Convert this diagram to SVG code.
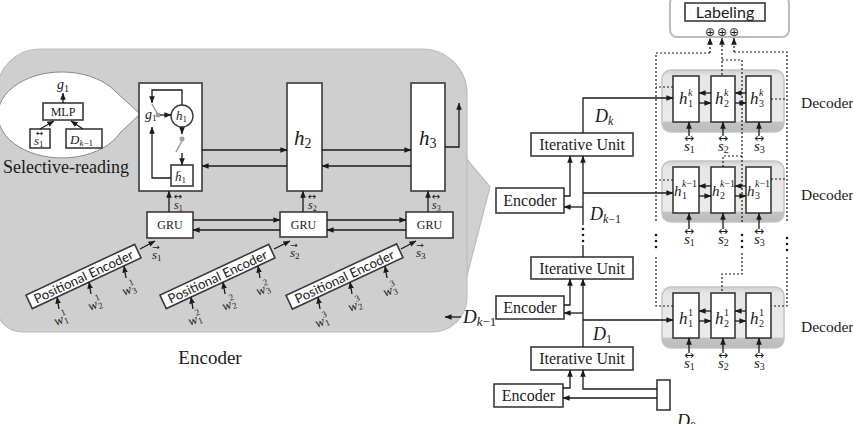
<svg xmlns="http://www.w3.org/2000/svg" width="853" height="424" viewBox="0 0 853 424">
<defs>
<marker id="ar" viewBox="0 0 10 10" refX="9.5" refY="5" markerWidth="7" markerHeight="7" markerUnits="userSpaceOnUse" orient="auto"><path d="M0,1 L10,5 L0,9 z" fill="#1a1a1a"/></marker>
<linearGradient id="dg" x1="0" y1="0" x2="0" y2="1">
<stop offset="0" stop-color="#cfcfcf"/><stop offset="0.1" stop-color="#e6e6e6"/><stop offset="0.82" stop-color="#ebebeb"/><stop offset="0.84" stop-color="#c3c3c3"/><stop offset="1" stop-color="#bababa"/>
</linearGradient>
</defs>
<style>
.ln{fill:none;stroke:#1a1a1a;stroke-width:1.3}
.ar{marker-end:url(#ar)}
.dl{fill:none;stroke:#1a1a1a;stroke-width:1.2;stroke-dasharray:2 2}
.bx{fill:#fff;stroke:#3a3a3a;stroke-width:1.6}
.sr{font-family:"Liberation Serif",serif;fill:#1a1a1a}
.mi{font-family:"Liberation Serif",serif;font-style:italic;fill:#1a1a1a}
.up{font-style:normal}
.sa{font-family:Lato,"Liberation Sans",sans-serif;fill:#1a1a1a}
.sy{font-family:"DejaVu Sans",sans-serif;fill:#1a1a1a}
.dec{fill:url(#dg);stroke:#c4c4c4;stroke-width:1.5}
.dot{fill:#1a1a1a}
</style>

<!-- ===== Left encoder panel ===== -->
<g id="encoder-panel">
<path d="M 455,145 L 490,187 L 462,295 Z" fill="#d0d0d0" stroke="#bdbdbd" stroke-width="1.2"/>
<path d="M -3,92 A 43 43 0 0 1 40,49 H 422 A 45 45 0 0 1 467,94 V 297 A 35 35 0 0 1 432,332 H 22 A 25 25 0 0 1 -3,307 Z" fill="#cfcfcf" stroke="#bdbdbd" stroke-width="1.2"/>
</g>

<g id="selective-reading">
<path d="M 116,92 L 140,114 L 120,133 A 64 43 0 1 1 116,92 Z" fill="#fff" stroke="#8a8a8a" stroke-width="1"/>
<text class="mi" x="57" y="89" font-size="14">g<tspan class="up" font-size="10" dy="3">1</tspan></text>
<g id="mlp"><rect class="bx" x="43" y="103" width="40" height="17" stroke-width="1.4"/><text class="sr" x="63" y="116" font-size="12" text-anchor="middle">MLP</text></g>
<g id="s1-box"><rect class="bx" x="30" y="129" width="20" height="19" stroke-width="1.4"/><text class="sy" x="39.5" y="136" font-size="9" text-anchor="middle">↔</text><text class="mi" x="34" y="145" font-size="13">s<tspan class="up" font-size="9" dy="2">1</tspan></text></g>
<g id="dk1-box"><rect class="bx" x="66" y="129" width="36" height="19" stroke-width="1.4"/><text class="mi" x="70" y="144" font-size="13">D<tspan font-size="9" dy="2">k</tspan><tspan class="up" font-size="9">−1</tspan></text></g>
<text class="sr" x="3" y="173" font-size="18">Selective-reading</text>
</g>

<g id="h1-cell">
<rect class="bx" x="139" y="83" width="63" height="108"/>
<circle cx="182" cy="116" r="11" fill="#fff" stroke="#3a3a3a" stroke-width="1.4"/>
<text class="mi" x="176" y="120" font-size="13">h<tspan class="up" font-size="9" dy="2">1</tspan></text>
<text class="mi" x="145" y="119" font-size="14">g<tspan class="up" font-size="9" dy="2">1</tspan></text>
<circle cx="158" cy="115" r="2.5" fill="#a0a0a0"/>
<circle cx="182" cy="139" r="2.5" fill="#a0a0a0"/>
<rect class="bx" x="171" y="165" width="22" height="21" stroke-width="1.4"/>
<text class="mi" x="175" y="181" font-size="13">h̄<tspan class="up" font-size="9" dy="2">1</tspan></text>
</g>

<g id="h2-cell"><rect class="bx" x="287" y="83" width="35" height="108"/><text class="mi" x="294" y="145" font-size="21">h<tspan class="up" font-size="14" dy="3">2</tspan></text></g>
<g id="h3-cell"><rect class="bx" x="411" y="83" width="34" height="108"/><text class="mi" x="419" y="145" font-size="21">h<tspan class="up" font-size="14" dy="3">3</tspan></text></g>

<g id="gru1"><rect class="bx" x="147" y="212" width="46" height="26"/><text class="sr" x="170" y="229" font-size="12" text-anchor="middle">GRU</text></g>
<g id="gru2"><rect class="bx" x="280" y="212" width="47" height="25"/><text class="sr" x="303.5" y="229" font-size="12" text-anchor="middle">GRU</text></g>
<g id="gru3"><rect class="bx" x="406" y="212" width="47" height="26"/><text class="sr" x="429.5" y="229" font-size="12" text-anchor="middle">GRU</text></g>

<g id="pe1" transform="translate(83.5,276.5) rotate(-25)"><rect class="bx" x="-60" y="-7.5" width="120" height="15" stroke-width="1.4"/><text class="sa" x="0" y="4.8" font-size="13" text-anchor="middle" textLength="108" lengthAdjust="spacingAndGlyphs">Positional Encoder</text></g>
<g id="pe2" transform="translate(217.5,276.5) rotate(-25)"><rect class="bx" x="-60" y="-7.5" width="120" height="15" stroke-width="1.4"/><text class="sa" x="0" y="4.8" font-size="13" text-anchor="middle" textLength="108" lengthAdjust="spacingAndGlyphs">Positional Encoder</text></g>
<g id="pe3" transform="translate(344.5,276.5) rotate(-25)"><rect class="bx" x="-61" y="-7.5" width="122" height="15" stroke-width="1.4"/><text class="sa" x="0" y="4.8" font-size="13" text-anchor="middle" textLength="108" lengthAdjust="spacingAndGlyphs">Positional Encoder</text></g>

<g id="word-labels">
<g transform="translate(56,326) rotate(-22)"><text class="mi" font-size="14">w<tspan class="up" font-size="9" x="9.5" dy="2">1</tspan><tspan class="up" font-size="9" x="9.5" dy="-9">1</tspan></text></g>
<g transform="translate(90,311) rotate(-22)"><text class="mi" font-size="14">w<tspan class="up" font-size="9" x="9.5" dy="2">2</tspan><tspan class="up" font-size="9" x="9.5" dy="-9">1</tspan></text></g>
<g transform="translate(124,296) rotate(-22)"><text class="mi" font-size="14">w<tspan class="up" font-size="9" x="9.5" dy="2">3</tspan><tspan class="up" font-size="9" x="9.5" dy="-9">1</tspan></text></g>
<g transform="translate(190,326) rotate(-22)"><text class="mi" font-size="14">w<tspan class="up" font-size="9" x="9.5" dy="2">1</tspan><tspan class="up" font-size="9" x="9.5" dy="-9">2</tspan></text></g>
<g transform="translate(224,311) rotate(-22)"><text class="mi" font-size="14">w<tspan class="up" font-size="9" x="9.5" dy="2">2</tspan><tspan class="up" font-size="9" x="9.5" dy="-9">2</tspan></text></g>
<g transform="translate(258,296) rotate(-22)"><text class="mi" font-size="14">w<tspan class="up" font-size="9" x="9.5" dy="2">3</tspan><tspan class="up" font-size="9" x="9.5" dy="-9">2</tspan></text></g>
<g transform="translate(317,328) rotate(-22)"><text class="mi" font-size="14">w<tspan class="up" font-size="9" x="9.5" dy="2">1</tspan><tspan class="up" font-size="9" x="9.5" dy="-9">3</tspan></text></g>
<g transform="translate(350,312) rotate(-22)"><text class="mi" font-size="14">w<tspan class="up" font-size="9" x="9.5" dy="2">2</tspan><tspan class="up" font-size="9" x="9.5" dy="-9">3</tspan></text></g>
<g transform="translate(385,297) rotate(-22)"><text class="mi" font-size="14">w<tspan class="up" font-size="9" x="9.5" dy="2">3</tspan><tspan class="up" font-size="9" x="9.5" dy="-9">3</tspan></text></g>
</g>

<g id="state-labels">
<text class="sy" x="156" y="249.5" font-size="9" text-anchor="middle">→</text><text class="mi" x="152" y="259" font-size="13">s<tspan class="up" font-size="9" dy="2">1</tspan></text>
<text class="sy" x="294" y="247.5" font-size="9" text-anchor="middle">→</text><text class="mi" x="290" y="257" font-size="13">s<tspan class="up" font-size="9" dy="2">2</tspan></text>
<text class="sy" x="420" y="247.5" font-size="9" text-anchor="middle">→</text><text class="mi" x="416" y="257" font-size="13">s<tspan class="up" font-size="9" dy="2">3</tspan></text>
<text class="sy" x="178" y="200" font-size="10" text-anchor="middle">↔</text><text class="mi" x="174" y="209" font-size="12">s<tspan class="up" font-size="8" dy="2">1</tspan></text>
<text class="sy" x="312" y="200" font-size="10" text-anchor="middle">↔</text><text class="mi" x="308" y="209" font-size="12">s<tspan class="up" font-size="8" dy="2">2</tspan></text>
<text class="sy" x="436" y="200" font-size="10" text-anchor="middle">↔</text><text class="mi" x="432" y="209" font-size="12">s<tspan class="up" font-size="8" dy="2">3</tspan></text>
</g>

<text id="dk1-left" class="mi" x="463" y="323" font-size="19">D<tspan font-size="13" dy="3">k</tspan><tspan class="up" font-size="13">−1</tspan></text>
<text id="encoder-caption" class="sr" x="210" y="364" font-size="19" text-anchor="middle">Encoder</text>

<!-- ===== Right column ===== -->
<g id="labeling">
<rect x="670" y="-4" width="119" height="41" rx="7" fill="#fff" stroke="#bdbdbd" stroke-width="2"/>
<rect class="bx" x="685" y="3" width="80" height="18" stroke-width="1.4"/>
<text class="sa" x="725" y="17.5" font-size="16" text-anchor="middle">Labeling</text>
<text class="sy" x="710 722 734" y="35.5" font-size="12" text-anchor="middle">⊕⊕⊕</text>
</g>

<g id="iu-k"><rect class="bx" x="531" y="133" width="102" height="23" stroke-width="1.4"/><text class="sr" x="582" y="150" font-size="16" text-anchor="middle">Iterative Unit</text></g>
<g id="enc-k"><rect class="bx" x="496" y="188" width="68" height="25" stroke-width="1.4"/><text class="sr" x="530" y="206" font-size="16" text-anchor="middle">Encoder</text></g>
<g id="iu-2"><rect class="bx" x="531" y="257" width="102" height="22" stroke-width="1.4"/><text class="sr" x="582" y="274" font-size="16" text-anchor="middle">Iterative Unit</text></g>
<g id="enc-2"><rect class="bx" x="496" y="296" width="68" height="23" stroke-width="1.4"/><text class="sr" x="530" y="313" font-size="16" text-anchor="middle">Encoder</text></g>
<g id="iu-1"><rect class="bx" x="531" y="347" width="102" height="23" stroke-width="1.4"/><text class="sr" x="582" y="364" font-size="16" text-anchor="middle">Iterative Unit</text></g>
<g id="enc-1"><rect class="bx" x="494" y="384" width="69" height="23" stroke-width="1.4"/><text class="sr" x="528.5" y="401" font-size="16" text-anchor="middle">Encoder</text></g>
<g id="d0"><rect class="bx" x="657" y="380" width="13" height="30" stroke-width="1.4"/><text class="mi" x="677" y="427" font-size="18">D<tspan class="up" font-size="12" dy="3">0</tspan></text></g>

<text class="mi" x="595" y="122" font-size="18">D<tspan font-size="12" dy="3">k</tspan></text>
<text class="mi" x="590" y="220" font-size="18">D<tspan font-size="12" dy="3">k</tspan><tspan class="up" font-size="12">−1</tspan></text>
<text class="mi" x="593" y="340" font-size="18">D<tspan class="up" font-size="12" dy="3">1</tspan></text>

<g id="decoder-k">
<rect class="dec" x="662" y="70" width="122" height="62" rx="9"/>
<rect class="bx" x="673" y="76" width="26" height="46"/>
<rect class="bx" x="711" y="76" width="24" height="46"/>
<rect class="bx" x="746" y="76" width="25" height="46"/>
<text class="mi" x="679" y="104" font-size="17">h<tspan class="up" font-size="10" x="688" dy="3">1</tspan><tspan font-size="10" x="688" dy="-11">k</tspan></text>
<text class="mi" x="715" y="104" font-size="17">h<tspan class="up" font-size="10" x="724" dy="3">2</tspan><tspan font-size="10" x="724" dy="-11">k</tspan></text>
<text class="mi" x="750" y="104" font-size="17">h<tspan class="up" font-size="10" x="759" dy="3">3</tspan><tspan font-size="10" x="759" dy="-11">k</tspan></text>
<text class="sy" x="689" y="141.5" font-size="12" text-anchor="middle">↔</text><text class="mi" x="684" y="151" font-size="15">s<tspan class="up" font-size="10" dy="2">1</tspan></text>
<text class="sy" x="723" y="141.5" font-size="12" text-anchor="middle">↔</text><text class="mi" x="718" y="151" font-size="15">s<tspan class="up" font-size="10" dy="2">2</tspan></text>
<text class="sy" x="759" y="141.5" font-size="12" text-anchor="middle">↔</text><text class="mi" x="754" y="151" font-size="15">s<tspan class="up" font-size="10" dy="2">3</tspan></text>
<text class="sr" x="801" y="108" font-size="15.5">Decoder</text>
</g>

<g id="decoder-k-1">
<rect class="dec" x="662" y="161" width="122" height="61" rx="9"/>
<rect class="bx" x="673" y="167" width="26" height="46"/>
<rect class="bx" x="711" y="167" width="24" height="46"/>
<rect class="bx" x="746" y="167" width="25" height="46"/>
<text class="mi" x="674" y="196" font-size="15">h<tspan class="up" font-size="10" x="682" dy="3">1</tspan><tspan font-size="10" x="682" dy="-12">k</tspan><tspan class="up" font-size="10">−1</tspan></text>
<text class="mi" x="712" y="196" font-size="15">h<tspan class="up" font-size="10" x="720" dy="3">2</tspan><tspan font-size="10" x="720" dy="-12">k</tspan><tspan class="up" font-size="10">−1</tspan></text>
<text class="mi" x="747" y="196" font-size="15">h<tspan class="up" font-size="10" x="755" dy="3">3</tspan><tspan font-size="10" x="755" dy="-12">k</tspan><tspan class="up" font-size="10">−1</tspan></text>
<text class="sy" x="689" y="234.5" font-size="12" text-anchor="middle">↔</text><text class="mi" x="684" y="244" font-size="15">s<tspan class="up" font-size="10" dy="2">1</tspan></text>
<text class="sy" x="723" y="234.5" font-size="12" text-anchor="middle">↔</text><text class="mi" x="718" y="244" font-size="15">s<tspan class="up" font-size="10" dy="2">2</tspan></text>
<text class="sy" x="759" y="234.5" font-size="12" text-anchor="middle">↔</text><text class="mi" x="754" y="244" font-size="15">s<tspan class="up" font-size="10" dy="2">3</tspan></text>
<text class="sr" x="801" y="200" font-size="15.5">Decoder</text>
</g>

<g id="decoder-1">
<rect class="dec" x="662" y="287" width="122" height="61" rx="9"/>
<rect class="bx" x="673" y="293" width="26" height="45"/>
<rect class="bx" x="711" y="293" width="24" height="45"/>
<rect class="bx" x="746" y="293" width="25" height="45"/>
<text class="mi" x="679" y="324" font-size="17">h<tspan class="up" font-size="10" x="688" dy="3">1</tspan><tspan class="up" font-size="10" x="688" dy="-11">1</tspan></text>
<text class="mi" x="715" y="324" font-size="17">h<tspan class="up" font-size="10" x="724" dy="3">2</tspan><tspan class="up" font-size="10" x="724" dy="-11">1</tspan></text>
<text class="mi" x="750" y="324" font-size="17">h<tspan class="up" font-size="10" x="759" dy="3">2</tspan><tspan class="up" font-size="10" x="759" dy="-11">1</tspan></text>
<text class="sy" x="689" y="358.5" font-size="12" text-anchor="middle">↔</text><text class="mi" x="684" y="368" font-size="15">s<tspan class="up" font-size="10" dy="2">1</tspan></text>
<text class="sy" x="723" y="358.5" font-size="12" text-anchor="middle">↔</text><text class="mi" x="718" y="368" font-size="15">s<tspan class="up" font-size="10" dy="2">2</tspan></text>
<text class="sy" x="759" y="358.5" font-size="12" text-anchor="middle">↔</text><text class="mi" x="754" y="368" font-size="15">s<tspan class="up" font-size="10" dy="2">3</tspan></text>
<text class="sr" x="801" y="332" font-size="15.5">Decoder</text>
</g>

<!-- ===== Connectors ===== -->
<g id="connectors">
<path class="ln ar" d="M 63,103 V 93"/>
<path class="ln ar" d="M 40,129 L 54,121"/>
<path class="ln ar" d="M 83,129 L 71,121"/>
<path class="ln ar" d="M 160,115 H 171"/>
<path class="ln ar" d="M 182,105 V 90 H 152 V 103"/>
<path d="M 152,104 L 157,113" stroke="#9a9a9a" stroke-width="1.5" fill="none"/>
<path class="ln ar" d="M 182,127 V 134"/>
<path d="M 182,141 L 176,152" stroke="#9a9a9a" stroke-width="1.5" fill="none"/>
<path class="ln ar" d="M 182,153 V 165"/>
<path class="ln ar" d="M 171,178 H 152 V 127"/>
<path class="ln ar" d="M 202,150 H 287"/>
<path class="ln ar" d="M 287,166 H 202"/>
<path class="ln ar" d="M 322,150 H 411"/>
<path class="ln ar" d="M 411,166 H 322"/>
<path class="ln ar" d="M 445,147 H 459 V 103"/>
<path class="ln ar" d="M 169,212 V 191"/>
<path class="ln ar" d="M 303,212 V 191"/>
<path class="ln ar" d="M 428,212 V 191"/>
<path class="ln ar" d="M 193,220 H 280"/>
<path class="ln ar" d="M 280,230 H 193"/>
<path class="ln ar" d="M 327,220 H 406"/>
<path class="ln ar" d="M 406,230 H 327"/>
<path class="ln ar" d="M 140,249 L 155,241"/>
<path class="ln ar" d="M 274,249 L 290,241"/>
<path class="ln ar" d="M 401,249 L 416,241"/>
<path class="ln ar" d="M 59,309 L 57,297"/>
<path class="ln ar" d="M 91,294 L 89,282"/>
<path class="ln ar" d="M 126,278 L 124,266"/>
<path class="ln ar" d="M 193,309 L 191,297"/>
<path class="ln ar" d="M 225,294 L 223,282"/>
<path class="ln ar" d="M 260,278 L 258,266"/>
<path class="ln ar" d="M 320,309 L 318,297"/>
<path class="ln ar" d="M 352,294 L 350,282"/>
<path class="ln ar" d="M 387,278 L 385,266"/>
<path class="ln ar" d="M 461,317 H 445"/>
<path class="ln ar" d="M 583,133 V 98 H 673"/>
<path class="ln ar" d="M 564,196 H 570 V 156"/>
<path class="ln ar" d="M 583,225 V 156"/>
<path class="ln ar" d="M 583,207 H 564"/>
<path class="ln ar" d="M 583,193 H 673"/>
<path class="ln" d="M 583,245 V 257"/>
<circle class="dot" cx="583" cy="229" r="1.3"/><circle class="dot" cx="583" cy="235" r="1.3"/><circle class="dot" cx="583" cy="241" r="1.3"/>
<path class="ln ar" d="M 564,305 H 570 V 279"/>
<path class="ln ar" d="M 583,347 V 279"/>
<path class="ln ar" d="M 583,313 H 564"/>
<path class="ln ar" d="M 583,320 H 673"/>
<path class="ln ar" d="M 563,388 H 570 V 370"/>
<path class="ln ar" d="M 657,389 H 583 V 370"/>
<path class="ln ar" d="M 657,398 H 563"/>
<path class="ln ar" d="M 711,93 H 699"/><path class="ln ar" d="M 699,103 H 711"/>
<path class="ln ar" d="M 746,93 H 735"/><path class="ln ar" d="M 735,103 H 746"/>
<path class="ln ar" d="M 711,186 H 699"/><path class="ln ar" d="M 699,196 H 711"/>
<path class="ln ar" d="M 746,186 H 735"/><path class="ln ar" d="M 735,196 H 746"/>
<path class="ln ar" d="M 711,311 H 699"/><path class="ln ar" d="M 699,321 H 711"/>
<path class="ln ar" d="M 746,311 H 735"/><path class="ln ar" d="M 735,321 H 746"/>
<path class="ln ar" d="M 689,136 V 122"/><path class="ln ar" d="M 723,136 V 122"/><path class="ln ar" d="M 759,136 V 122"/>
<path class="ln ar" d="M 689,229 V 213"/><path class="ln ar" d="M 723,229 V 213"/><path class="ln ar" d="M 759,229 V 213"/>
<path class="ln ar" d="M 689,353 V 338"/><path class="ln ar" d="M 723,353 V 338"/><path class="ln ar" d="M 759,353 V 338"/>
<path class="dl" d="M 673,87 H 656 M 673,180 H 656 M 710,53 H 656 V 222 M 656,257 V 306 H 673"/>
<path class="dl ar" d="M 710,53 V 38"/>
<path class="dl ar" d="M 722,75 V 38"/>
<path class="dl" d="M 722,60 H 742 V 222 M 742,156 H 723 V 167 M 742,253 V 274 H 722 V 293"/>
<path class="dl ar" d="M 734,52 V 38"/>
<path class="dl" d="M 734,52 H 787 V 222 M 787,257 V 306 H 771 M 771,99 H 787 M 771,179 H 787"/>
<circle class="dot" cx="656" cy="235" r="1.3"/><circle class="dot" cx="656" cy="241" r="1.3"/><circle class="dot" cx="656" cy="247" r="1.3"/>
<circle class="dot" cx="742" cy="235" r="1.3"/><circle class="dot" cx="742" cy="241" r="1.3"/><circle class="dot" cx="742" cy="247" r="1.3"/>
<circle class="dot" cx="787" cy="238" r="1.3"/><circle class="dot" cx="787" cy="244" r="1.3"/><circle class="dot" cx="787" cy="250" r="1.3"/>
</g>
</svg>
